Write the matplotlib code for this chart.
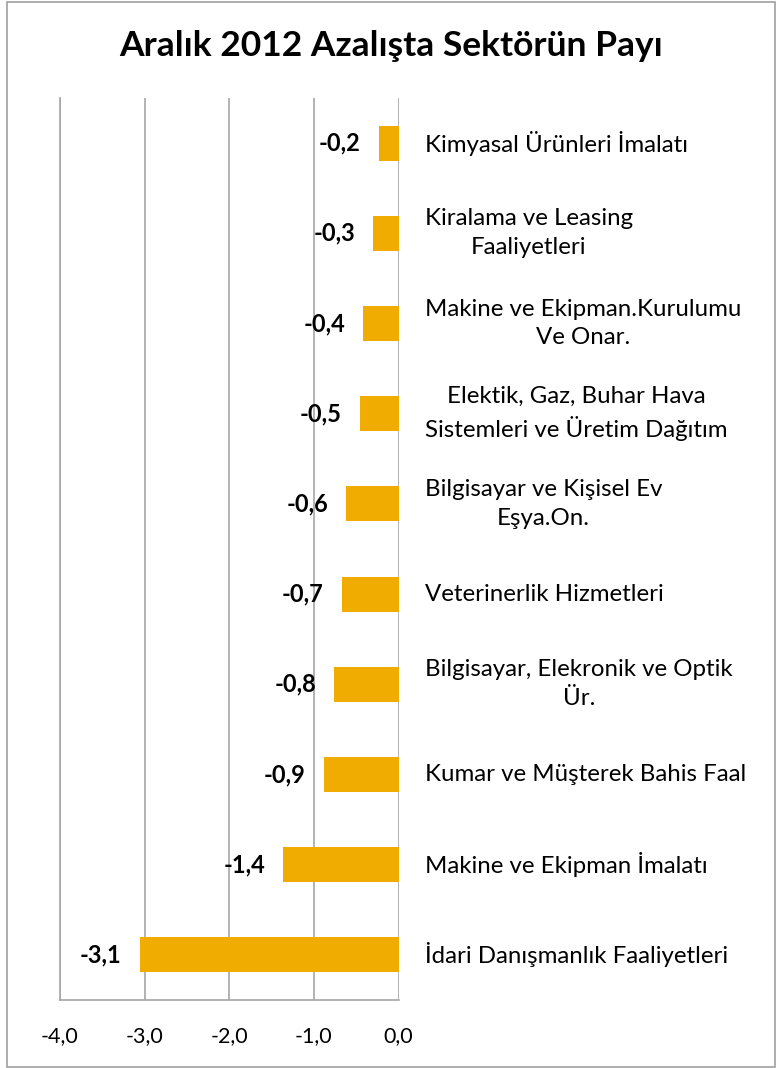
import matplotlib
matplotlib.use("Agg")
import matplotlib.pyplot as plt
from matplotlib.patches import Rectangle

plt.rcParams['font.family'] = ['Lato', 'DejaVu Sans']

title = "Aralık 2012 Azalışta Sektörün Payı"
categories = [
    "Kimyasal Ürünleri İmalatı",
    "Kiralama ve Leasing\nFaaliyetleri",
    "Makine ve Ekipman.Kurulumu\nVe Onar.",
    "Elektik, Gaz, Buhar Hava\nSistemleri ve Üretim Dağıtım",
    "Bilgisayar ve Kişisel Ev\nEşya.On.",
    "Veterinerlik Hizmetleri",
    "Bilgisayar, Elekronik ve Optik\nÜr.",
    "Kumar ve Müşterek Bahis Faal",
    "Makine ve Ekipman İmalatı",
    "İdari Danışmanlık Faaliyetleri",
]
values = [-0.23, -0.30, -0.42, -0.46, -0.62, -0.67, -0.76, -0.88, -1.36, -3.06]
xticks = [-4.0, -3.0, -2.0, -1.0, 0.0]

W, H = 782, 1068
fig = plt.figure(figsize=(W / 100, H / 100), dpi=100)
fig.patches.append(Rectangle((7 / W, 1 / H), (775 - 7) / W, (1066 - 1) / H,
                             transform=fig.transFigure, fill=False,
                             edgecolor='#A0A0A0', linewidth=1.2))

left, right, top, bottom = 60, 398.5, 98, 1000
ax = fig.add_axes([left / W, 1 - bottom / H, (right - left) / W, (bottom - top) / H])

ypos = list(range(len(categories)))
ax.barh(ypos, values, height=0.39, color='#F0AC00', zorder=3)
ax.set_xlim(-4, 0)
ax.set_ylim(len(categories) - 0.5, -0.5)

ax.set_xticks(xticks)
ax.set_xticklabels([f"{t:.1f}".replace('.', ',') for t in xticks], fontsize=15.5)
ax.tick_params(axis='x', length=0, pad=19, colors='#000000')
ax.set_yticks([])
ax.grid(axis='x', color='#A6A6A6', linewidth=1.2, zorder=0)
for s in ['top', 'right']:
    ax.spines[s].set_visible(False)
for s in ['left', 'bottom']:
    ax.spines[s].set_color('#A6A6A6')
    ax.spines[s].set_linewidth(1.2)

for y, v, c in zip(ypos, values, categories):
    ax.annotate(f"{v:.1f}".replace('.', ','), xy=(v, y), xytext=(-13, 0),
                textcoords='offset points', ha='right', va='center',
                fontsize=17, fontweight='bold', zorder=4)
    ax.annotate(c, xy=(0, y), xytext=(19, 0), textcoords='offset points',
                ha='left', va='center', multialignment='center',
                fontsize=17.3, annotation_clip=False, linespacing=1.45)

fig.text(391 / W, 1 - 46 / H, title, ha='center', va='center',
         fontsize=25.5, fontweight='bold')

fig.savefig("out.png", dpi=100)
